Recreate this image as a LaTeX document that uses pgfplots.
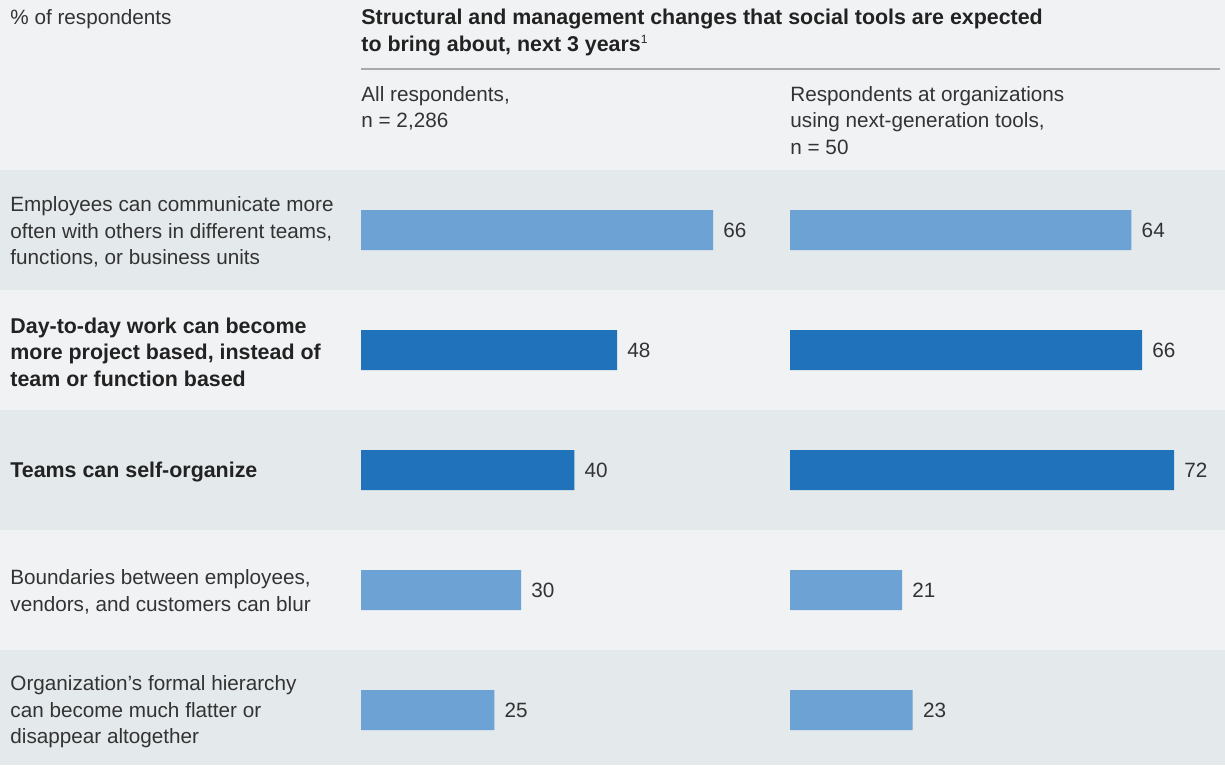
\documentclass[border=0pt]{standalone}
\usepackage{fontspec}
\setmainfont{Liberation Sans}
\usepackage{pgfplots}
\pgfplotsset{compat=1.18}
\definecolor{bgl}{HTML}{F1F2F4}
\definecolor{bgd}{HTML}{E4E9EC}
\definecolor{barl}{HTML}{6CA2D4}
\definecolor{bard}{HTML}{2073BB}
\definecolor{txt}{HTML}{333333}
\definecolor{ttl}{HTML}{222222}
\definecolor{rulec}{HTML}{A9A9A9}
\newcommand\fs{\fontsize{10.35pt}{13.25pt}\selectfont}
\newcommand\fb{\fontsize{10.7pt}{13.25pt}\selectfont\bfseries}

\begin{document}
\begin{tikzpicture}
\fill[bgl] (0,0) rectangle (612.5pt,-382.5pt);
\pgfplotsset{
  panel/.style={
    xbar, bar width=20pt, bar shift=0pt,
    scale only axis, height=297.5pt,
    ymin=0.5, ymax=5.458333, y dir=reverse,
    hide axis, clip=false,
    /pgf/number format/assume math mode=true,
    nodes near coords,
    every node near coord/.append style={font=\fs, text=txt, anchor=west, inner sep=0pt, xshift=5pt},
    anchor=south west,
  }
}
\begin{axis}[panel, at={(0pt,-382.5pt)}, width=395pt, xmin=-67.6875, xmax=80.4375]
 \fill[bgd] (axis cs:-67.6875,0.5) rectangle (axis cs:81,1.5);
 \fill[bgd] (axis cs:-67.6875,2.5) rectangle (axis cs:81,3.5);
 \fill[bgd] (axis cs:-67.6875,4.5) rectangle (axis cs:81,5.458333);
 \addplot[fill=barl, draw=none] coordinates {(66,1) (30,4) (25,5)};
 \addplot[fill=bard, draw=none] coordinates {(48,2) (40,3)};
\end{axis}
\begin{axis}[panel, at={(395pt,-382.5pt)}, width=217.5pt, xmin=0, xmax=81.5625]
 \fill[bgd] (axis cs:0,0.5) rectangle (axis cs:81.5625,1.5);
 \fill[bgd] (axis cs:0,2.5) rectangle (axis cs:81.5625,3.5);
 \fill[bgd] (axis cs:0,4.5) rectangle (axis cs:81.5625,5.458333);
 \addplot[fill=barl, draw=none] coordinates {(64,1) (21,4) (23,5)};
 \addplot[fill=bard, draw=none] coordinates {(66,2) (72,3)};
\end{axis}
% header
\node[anchor=north west, inner sep=0pt, font=\fs, text=txt] at (5pt,-4.5pt) {\% of respondents};
\node[anchor=north west, inner sep=0pt, font=\fb, text=ttl, align=left] at (180.5pt,-4.5pt)
  {Structural and management changes that social tools are expected\\to bring about, next 3 years{\mdseries\fontsize{6pt}{6pt}\selectfont\raisebox{4.2pt}{1}}};
\draw[rulec, line width=1pt] (180.5pt,-34.5pt) -- (610pt,-34.5pt);
\node[anchor=north west, inner sep=0pt, font=\fs, text=txt, align=left] at (180.5pt,-43pt)
  {All respondents,\\n = 2,286};
\node[anchor=north west, inner sep=0pt, font=\fs, text=txt, align=left] at (395pt,-43pt)
  {Respondents at organizations\\using next-generation tools,\\n = 50};
% row labels
\tikzset{rowlab/.style={anchor=west, inner sep=0pt, font=\fs, text=txt, align=left}}
\node[rowlab] at (5pt,-116pt) {Employees can communicate more\\often with others in different teams,\\functions, or business units};
\node[rowlab, font=\fb, text=ttl] at (5pt,-176pt) {Day-to-day work can become\\more project based, instead of\\team or function based};
\node[rowlab, font=\fb, text=ttl] at (5pt,-236pt) {Teams can self-organize};
\node[rowlab] at (5pt,-296pt) {Boundaries between employees,\\vendors, and customers can blur};
\node[rowlab] at (5pt,-356pt) {Organization’s formal hierarchy\\can become much flatter or\\disappear altogether};
\end{tikzpicture}
\end{document}
